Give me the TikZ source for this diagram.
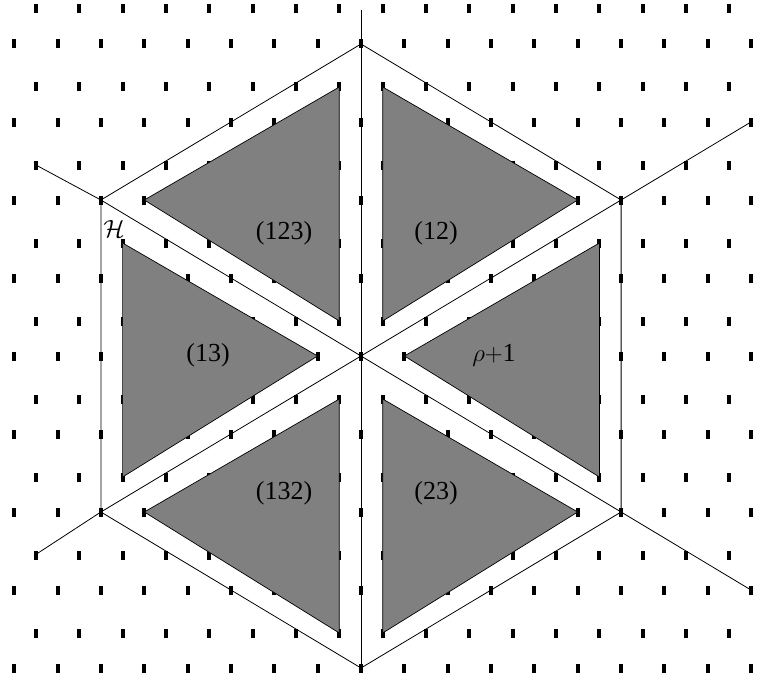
\documentclass[tikz,border=0pt]{standalone}
\usepackage{fontspec}
\setmainfont{Liberation Serif}
\begin{document}
\begin{tikzpicture}[x=1pt,y=-1pt,
  latpt/.style={fill=black},
  axis/.style={draw=black, line width=0.8pt},
  chamber/.style={fill=gray, draw=black, line width=0.7pt},
  lbl/.style={font=\fontsize{26}{31}\selectfont}]
\useasboundingbox (0,0) rectangle (769,677);
% lattice points
\foreach \i in {-4,...,4}
  \foreach \j in {-8,...,9}
    \fill[latpt] ({361+43.35*\j-2},{356+78*\i-4.5}) rectangle +(4,9);
\foreach \i in {-4,...,4}
  \foreach \j in {-8,...,8}
    \fill[latpt] ({361+43.35*(\j+0.5)-2},{321+78*\i-4.5}) rectangle +(4,9);
% hexagon and reflection lines
\coordinate (c) at (361,356);
\coordinate (t) at (361,44);
\coordinate (tr) at (621.1,200);
\coordinate (br) at (621.1,512);
\coordinate (b) at (361,668);
\coordinate (bl) at (100.9,512);
\coordinate (tl) at (100.9,200);
\coordinate (vtop) at (361,10);
\coordinate (d1a) at (35.9,165);
\coordinate (d1b) at (751,590);
\coordinate (d2a) at (751,122);
\coordinate (d2b) at (35,555);
\draw[axis] (t) -- (tr) -- (br) -- (b) -- (bl) -- (tl) -- cycle;
\draw[axis] (vtop) -- (b);
\draw[axis] (d1a) -- (tl) -- (c) -- (br) -- (d1b);
\draw[axis] (d2a) -- (tr) -- (c) -- (bl) -- (d2b);
% chambers
\draw[chamber] (382.7,87) -- (577.7,200) -- (382.7,321) -- cycle;
\draw[chamber] (339.3,87) -- (144.3,200) -- (339.3,321) -- cycle;
\draw[chamber] (404.4,356) -- (599.4,243) -- (599.4,477) -- cycle;
\draw[chamber] (317.6,356) -- (122.6,243) -- (122.6,477) -- cycle;
\draw[chamber] (339.3,399) -- (144.3,512) -- (339.3,633) -- cycle;
\draw[chamber] (382.7,399) -- (577.7,512) -- (382.7,633) -- cycle;
% labels
\node[lbl] (l123) at (284,233) {(123)};
\node[lbl] (l12) at (436,233) {(12)};
\node[lbl] (l13) at (208,355) {(13)};
\node[lbl] (lrho) at (494,355) {$\rho{+}$1};
\node[lbl] (l132) at (284,493) {(132)};
\node[lbl] (l23) at (436,493) {(23)};
\node[lbl] (hh) at (114,229) {$\mathcal{H}$};
\end{tikzpicture}
\end{document}
